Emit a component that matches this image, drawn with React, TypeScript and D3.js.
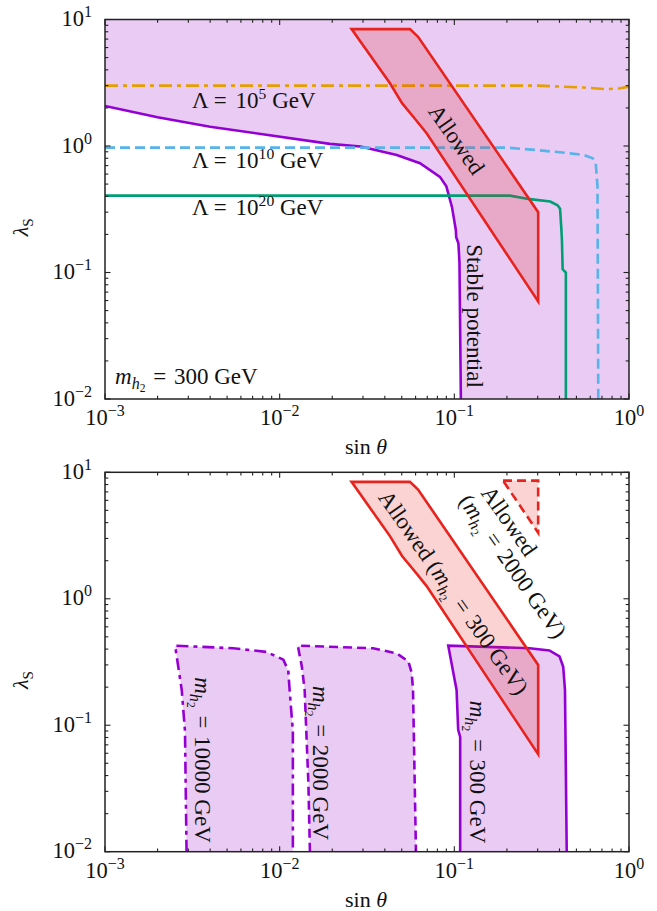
import React from 'react';
import * as d3 from 'd3';

// ---- data (sin theta, lambda_S) ----
const xTickVals = [1e-3, 1e-2, 1e-1, 1];
const xTickExp = ['−3', '−2', '−1', '0'];
const yTickVals = [1e-2, 1e-1, 1, 10];
const yTickExp = ['−2', '−1', '0', '1'];

// top panel, m_h2 = 300 GeV
const stableBoundary = [
  [1e-3, 2.07], [2e-3, 1.69], [4e-3, 1.42], [0.0194, 1.04], [0.029, 0.99],
  [0.0468, 0.85], [0.0636, 0.73], [0.0827, 0.57], [0.09, 0.48], [0.0969, 0.33],
  [0.102, 0.217], [0.1025, 0.19], [0.1055, 0.17], [0.107, 0.12], [0.109, 0.01],
];
const lambda1e5 = [
  [1e-3, 3.0], [0.3, 3.0], [0.55, 2.9], [0.74, 2.81], [0.89, 2.86], [1.0, 2.95],
];
const lambda1e10 = [
  [1e-3, 0.97], [0.2, 0.97], [0.294, 0.93], [0.46, 0.875], [0.55, 0.85],
  [0.62, 0.8], [0.645, 0.73], [0.66, 0.48], [0.667, 0.01],
];
const lambda1e20 = [
  [1e-3, 0.405], [0.208, 0.405], [0.271, 0.38], [0.354, 0.364], [0.39, 0.34],
  [0.403, 0.32], [0.41, 0.22], [0.413, 0.18], [0.417, 0.106], [0.435, 0.1], [0.435, 0.01],
];
const allowed300 = [
  [0.0258, 8.4], [0.0557, 8.4], [0.062, 7.3], [0.302, 0.3], [0.302, 0.059],
  [0.0694, 1.26], [0.0593, 1.65], [0.0502, 2.18], [0.0428, 3.13],
];
const allowed2000 = [[0.19, 8.6], [0.302, 8.6], [0.302, 3.33]];

// bottom panel, stable regions per mass
const stable300 = [
  [0.108, 0.01], [0.108, 0.081], [0.1052, 0.092], [0.103, 0.19], [0.0923, 0.426],
  [0.27, 0.406], [0.35, 0.39], [0.4, 0.35], [0.42, 0.29], [0.43, 0.19], [0.44, 0.01],
];
const stable2000 = [
  [0.0149, 0.01], [0.0146, 0.035], [0.0139, 0.19], [0.0134, 0.29], [0.0127, 0.426],
  [0.0343, 0.406], [0.0468, 0.37], [0.0545, 0.32], [0.057, 0.26], [0.058, 0.19], [0.0603, 0.01],
];
const stable10000 = [
  [0.00293, 0.01], [0.00287, 0.09], [0.00275, 0.19], [0.00252, 0.426], [0.00542, 0.406],
  [0.00842, 0.38], [0.0105, 0.33], [0.0112, 0.27], [0.0114, 0.19], [0.0119, 0.09], [0.0119, 0.01],
];

const FONT = "'Liberation Serif', 'DejaVu Serif', serif";
const LAV = '#e9cbf4';
const PURPLE = '#9400d3';
const RED = '#e8231d';
const FS = 23;

const X0 = 105, X1 = 629;
const x = d3.scaleLog().domain([1e-3, 1]).range([X0, X1]);
const yTop = d3.scaleLog().domain([1e-2, 10]).range([399, 19.5]);
const yBot = d3.scaleLog().domain([1e-2, 10]).range([851.7, 472.3]);

type Seg = { t: string; it?: boolean; s?: number; dy?: number; dx?: number };

function Rich({ segs, size }: { segs: Seg[]; size: number }) {
  return (
    <>
      {segs.map((g, i) => (
        <tspan key={i} fontStyle={g.it ? 'italic' : 'normal'} fontSize={size * (g.s || 1)} dy={g.dy || 0} dx={g.dx || 0} style={{ whiteSpace: 'pre' }}>
          {g.t}
        </tspan>
      ))}
    </>
  );
}

// "=" with math spacing
const eq: Seg[] = [{ t: ' = ', dx: 0 }];
const mh = (rest: string, tail = ''): Seg[] => [
  { t: 'm', it: true }, { t: 'h', it: true, s: 0.7, dy: 5 }, { t: '2', s: 0.5, dy: 3 },
  { t: ' =', dy: -8, dx: 2 }, { t: ' ' + rest + tail, dx: 2 },
];
const lam = (e: string): Seg[] => [
  { t: 'Λ =' }, { t: ' 10', dx: 3 }, { t: e, s: 0.68, dy: -9 }, { t: ' GeV', dy: 9 },
];

function Frame({ y }: { y: d3.ScaleLogarithmic<number, number> }) {
  const [yb, yt] = y.range();
  const xMinor: number[] = [];
  [-3, -2, -1].forEach(d => { for (let k = 2; k < 10; k++) xMinor.push(k * Math.pow(10, d)); });
  const yMinor: number[] = [];
  [-2, -1, 0].forEach(d => { for (let k = 2; k < 10; k++) yMinor.push(k * Math.pow(10, d)); });
  return (
    <g stroke="#222" strokeWidth={1.1}>
      {xTickVals.map(v => (
        <g key={'xM' + v}>
          <line x1={x(v)} x2={x(v)} y1={yb} y2={yb - 5.5} />
          <line x1={x(v)} x2={x(v)} y1={yt} y2={yt + 5.5} />
        </g>
      ))}
      {xMinor.map(v => (
        <g key={'xm' + v}>
          <line x1={x(v)} x2={x(v)} y1={yb} y2={yb - 3.3} />
          <line x1={x(v)} x2={x(v)} y1={yt} y2={yt + 3.3} />
        </g>
      ))}
      {yTickVals.map(v => (
        <g key={'yM' + v}>
          <line x1={X0} x2={X0 + 5.5} y1={y(v)} y2={y(v)} />
          <line x1={X1} x2={X1 - 5.5} y1={y(v)} y2={y(v)} />
        </g>
      ))}
      {yMinor.map(v => (
        <g key={'ym' + v}>
          <line x1={X0} x2={X0 + 3.3} y1={y(v)} y2={y(v)} />
          <line x1={X1} x2={X1 - 3.3} y1={y(v)} y2={y(v)} />
        </g>
      ))}
      <rect x={X0} y={yt} width={X1 - X0} height={yb - yt} fill="none" strokeWidth={1.5} />
      <g stroke="none" fill="#111" fontFamily={FONT} fontSize={22.5}>
        {xTickVals.map((v, i) => (
          <text key={'xl' + v} x={x(v)} y={yb + 26} textAnchor="middle">
            <tspan>10</tspan><tspan fontSize={16} dy={-9}>{xTickExp[i]}</tspan>
          </text>
        ))}
        {yTickVals.map((v, i) => (
          <text key={'yl' + v} x={92} y={y(v) + 6.5} textAnchor="end">
            <tspan>10</tspan><tspan fontSize={16} dy={-9}>{yTickExp[i]}</tspan>
          </text>
        ))}
        <text x={366} y={yb + 55} textAnchor="middle" fontSize={22}>
          sin <tspan fontStyle="italic">θ</tspan>
        </text>
        <text transform={`translate(28,${(yb + yt) / 2 + 18}) rotate(-90)`} textAnchor="middle" fontSize={22}>
          <tspan fontStyle="italic">λ</tspan><tspan fontSize={15} dy={5}>S</tspan>
        </text>
      </g>
    </g>
  );
}

export default function App() {
  const lineT = d3.line<number[]>().x(d => x(d[0])).y(d => yTop(d[1]));
  const lineB = d3.line<number[]>().x(d => x(d[0])).y(d => yBot(d[1]));
  const [xmin, xmax] = x.domain();
  const [ymin, ymax] = yTop.domain();
  const stableFill = [...stableBoundary, [xmax, ymin], [xmax, ymax], [xmin, ymax]];

  return (
    <svg width={657} height={911} style={{ position: 'absolute', left: 0, top: 0, background: '#fff' }}>
      <defs>
        <clipPath id="cTop"><rect x={X0} y={19.5} width={X1 - X0} height={399 - 19.5} /></clipPath>
        <clipPath id="cBot"><rect x={X0} y={472.3} width={X1 - X0} height={851.7 - 472.3} /></clipPath>
      </defs>

      {/* top panel */}
      <g clipPath="url(#cTop)">
        <path d={lineT(stableFill as number[][]) + 'Z'} fill={LAV} />
        <path d={lineT(stableBoundary)!} fill="none" stroke={PURPLE} strokeWidth={2.6} />
        <path d={lineT(lambda1e5)!} fill="none" stroke="#e69f00" strokeWidth={2.6} strokeDasharray="13,5,4,5" />
        <path d={lineT(lambda1e10)!} fill="none" stroke="#56b4e9" strokeWidth={2.6} strokeDasharray="10,5" />
        <path d={lineT(lambda1e20)!} fill="none" stroke="#009e73" strokeWidth={2.6} />
        <path d={lineT(allowed300) + 'Z'} fill={RED} fillOpacity={0.2} stroke={RED} strokeWidth={2.6} />
      </g>
      <g fontFamily={FONT} fontSize={FS} fill="#111">
        <text x={192} y={108}><Rich size={FS} segs={lam('5')} /></text>
        <text x={192} y={168}><Rich size={FS} segs={lam('10')} /></text>
        <text x={192} y={215}><Rich size={FS} segs={lam('20')} /></text>
        <text x={115} y={384}><Rich size={FS} segs={mh('300 GeV')} /></text>
        <text transform="translate(456,140) rotate(55)" textAnchor="middle" y={7}>Allowed</text>
        <text transform="translate(474,316) rotate(90)" textAnchor="middle" y={7}>Stable potential</text>
      </g>
      <Frame y={yTop} />

      {/* bottom panel */}
      <g clipPath="url(#cBot)">
        {[stable10000, stable2000, stable300].map((s, i) => (
          <path key={'f' + i} d={lineB(s) + 'Z'} fill={LAV} />
        ))}
        <path d={lineB(stable10000)!} fill="none" stroke={PURPLE} strokeWidth={2.6} strokeDasharray="12,5,4,5" />
        <path d={lineB(stable2000)!} fill="none" stroke={PURPLE} strokeWidth={2.6} strokeDasharray="9,5" />
        <path d={lineB(stable300)!} fill="none" stroke={PURPLE} strokeWidth={2.6} />
        <path d={lineB(allowed300) + 'Z'} fill={RED} fillOpacity={0.2} stroke={RED} strokeWidth={2.6} />
        <path d={lineB(allowed2000) + 'Z'} fill={RED} fillOpacity={0.2} stroke={RED} strokeWidth={2.6} strokeDasharray="9,5" />
      </g>
      <g fontFamily={FONT} fontSize={FS} fill="#111">
        <text transform="translate(453,593) rotate(55)" textAnchor="middle" y={7}>
          <Rich size={FS} segs={[{ t: 'Allowed (' }, ...mh('300 GeV', ')')]} />
        </text>
        <g transform="translate(486,489) rotate(55)">
          <text x={0} y={7}>Allowed</text>
          <text x={-6} y={30}><Rich size={FS} segs={[{ t: '(' }, ...mh('2000 GeV', ')')]} /></text>
        </g>
        <text transform="translate(202,760) rotate(90)" textAnchor="middle" y={7}><Rich size={FS} segs={mh('10000 GeV')} /></text>
        <text transform="translate(320,763) rotate(90)" textAnchor="middle" y={7}><Rich size={FS} segs={mh('2000 GeV')} /></text>
        <text transform="translate(477,772) rotate(90)" textAnchor="middle" y={7}><Rich size={FS} segs={mh('300 GeV')} /></text>
      </g>
      <Frame y={yBot} />
    </svg>
  );
}
